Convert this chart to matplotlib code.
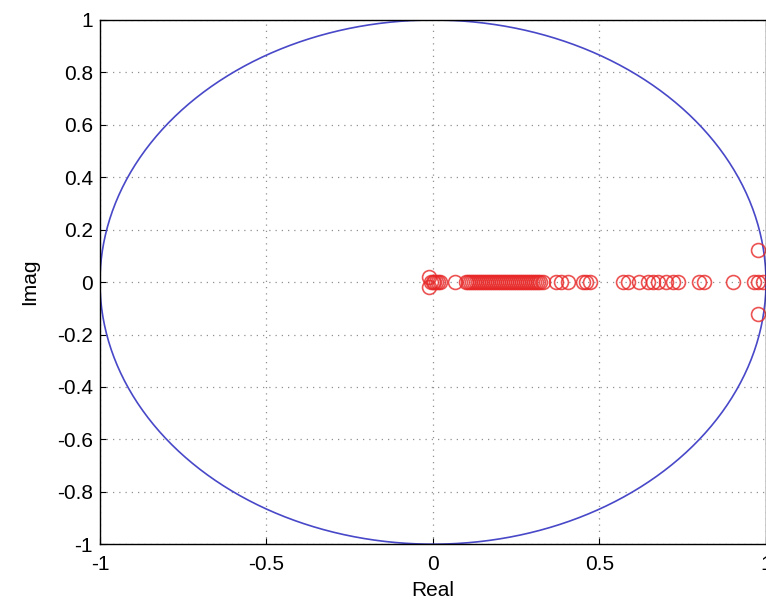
import numpy as np
import matplotlib.pyplot as plt

# poles (real part, imaginary part)
pole_re = [-0.012, -0.012, -0.005, 0.0, 0.003, 0.008, 0.015, 0.022,
           0.065, 0.100, 0.106, 0.112, 0.118, 0.124, 0.130, 0.136, 0.142,
           0.148, 0.154, 0.160, 0.166, 0.172, 0.178, 0.184, 0.190, 0.196,
           0.202, 0.208, 0.214, 0.220, 0.226, 0.232, 0.238, 0.244, 0.250,
           0.256, 0.262, 0.268, 0.274, 0.280, 0.286, 0.292, 0.298, 0.304,
           0.310, 0.316, 0.322, 0.330, 0.37, 0.385, 0.405, 0.45, 0.46,
           0.47, 0.57, 0.585, 0.62, 0.645, 0.66, 0.675, 0.70, 0.72, 0.735,
           0.80, 0.815, 0.90, 0.965, 0.975, 0.99, 0.975, 0.975]
pole_im = [0.02, -0.02] + [0.0] * 67 + [0.123, -0.123]

x_ticks = [-1, -0.5, 0, 0.5, 1]
y_ticks = [-1, -0.8, -0.6, -0.4, -0.2, 0, 0.2, 0.4, 0.6, 0.8, 1]

plt.rcParams['font.family'] = ['Liberation Sans', 'DejaVu Sans']

fig = plt.figure(figsize=(7.66, 6.06), dpi=100)
ax = fig.add_axes([0.1305, 0.102, 0.8695, 0.865])

theta = np.linspace(0, 2*np.pi, 400)
ax.plot(np.cos(theta), np.sin(theta), color='#4848c8', linewidth=1.2)
ax.plot(pole_re, pole_im, 'o', markerfacecolor='none', markeredgecolor='#e82828',
        markersize=10, markeredgewidth=1.2, alpha=0.8)

ax.set_xlim(-1, 1)
ax.set_ylim(-1, 1)
ax.set_xticks(x_ticks)
ax.set_xticklabels([f'{v:g}' for v in x_ticks])
ax.set_yticks(y_ticks)
ax.set_yticklabels([f'{v:g}' for v in y_ticks])
ax.tick_params(direction='in', labelsize=15, length=4, width=0.8)
ax.tick_params(axis='x', pad=8)
ax.tick_params(axis='y', pad=5)
ax.grid(True, linestyle=(0, (1, 4)), color='#909090', linewidth=0.9)
for s in ax.spines.values():
    s.set_linewidth(1.0)
ax.set_xlabel('Real', fontsize=15, labelpad=5)
ax.set_ylabel('Imag', fontsize=15, labelpad=13)

fig.savefig('out.png', dpi=100)
